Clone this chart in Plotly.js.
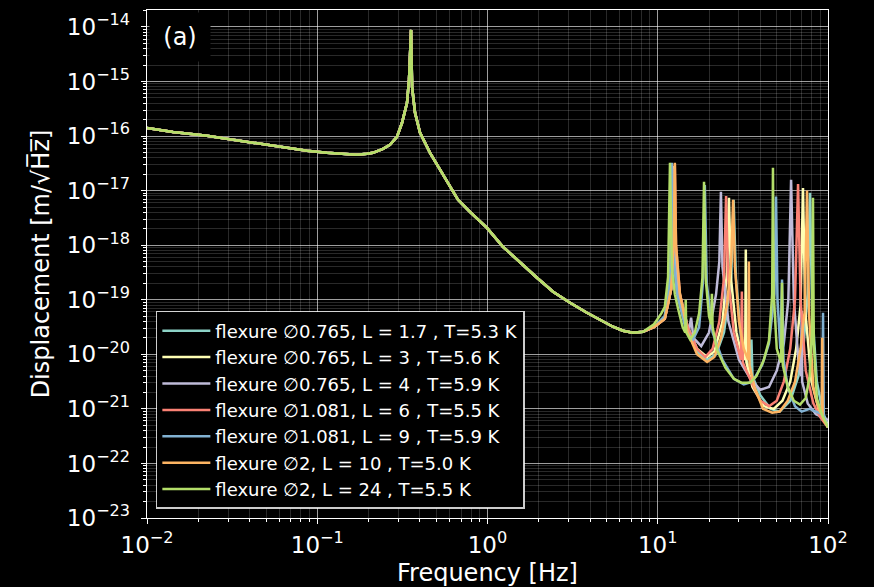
<!DOCTYPE html>
<html>
<head>
<meta charset="utf-8">
<script src="https://cdn.plot.ly/plotly-3.0.1.min.js"></script>
<style>
html,body{margin:0;padding:0;background:#000;}
#plot{width:874px;height:587px;}
</style>
</head>
<body>
<div id="plot"></div>
<script>
// Shared low-frequency part (all curves overlap below ~9 Hz)
const freqBase = [0.01, 0.01422, 0.02249, 0.03515, 0.05495, 0.0870, 0.1140, 0.1361, 0.1711, 0.1959, 0.2124, 0.2432, 0.2673, 0.2939, 0.3148, 0.3367, 0.3459, 0.3556, 0.3606, 0.3753, 0.4016, 0.4597, 0.5260, 0.6020, 0.6714, 0.7889, 0.9931, 1.2331, 1.552, 1.953, 2.427, 3.054, 3.839, 4.767, 5.455, 6.246, 7.155, 8.19];
const dispBase = [1.41e-16, 1.19e-16, 1.01e-16, 8.17e-17, 6.62e-17, 5.37e-17, 4.92e-17, 4.72e-17, 4.53e-17, 4.72e-17, 4.92e-17, 5.83e-17, 6.90e-17, 9.66e-17, 1.75e-16, 4.06e-16, 1.07e-15, 8.81e-15, 7.96e-16, 2.66e-16, 1.15e-16, 4.92e-17, 2.40e-17, 1.17e-17, 6.79e-18, 4.09e-18, 2.08e-18, 9.35e-19, 4.76e-19, 2.53e-19, 1.40e-19, 8.81e-20, 5.78e-20, 3.95e-20, 3.20e-20, 2.70e-20, 2.49e-20, 2.59e-20];

// High-frequency parts, one per flexure
const freqTeal = [9.5, 11.0, 11.7, 11.9, 12.1, 12.3, 13.0, 15.0, 17.0, 19.5, 22, 24.5, 27.0, 27.9, 28.8, 31, 35.0, 35.5, 36.0, 40, 46, 52, 60, 67, 72, 76, 78.4, 80.5, 86, 93, 100];
const dispTeal = [3.16e-20, 5.01e-20, 2.0e-19, 7.94e-19, 2.82e-17, 7.94e-19, 1.26e-19, 2.51e-20, 1.12e-20, 7.94e-21, 1.0e-20, 2.51e-20, 2.51e-19, 6.76e-18, 2.51e-19, 1.58e-20, 4.47e-21, 1.86e-20, 3.98e-21, 1.78e-21, 1.0e-21, 8.91e-22, 1.41e-21, 3.98e-21, 1.58e-20, 1.26e-19, 9.12e-18, 7.94e-20, 3.16e-21, 8.91e-22, 5.01e-22];

const freqYellow = [9.5, 11.0, 12.0, 12.2, 12.4, 12.6, 13.5, 15.0, 17.0, 19.5, 21.5, 24, 25.5, 26.2, 26.9, 29, 31, 32.6, 32.9, 33.2, 36, 42, 48, 54, 60, 65, 69, 71.3, 73.5, 80, 88, 100];
const dispYellow = [3.16e-20, 4.47e-20, 1.58e-19, 6.31e-19, 2.82e-17, 6.31e-19, 1.26e-19, 3.16e-20, 1.26e-20, 8.91e-21, 1.12e-20, 3.98e-20, 3.16e-19, 7.41e-18, 2.51e-19, 2.51e-20, 1.0e-20, 7.94e-21, 8.32e-19, 7.08e-21, 2.51e-21, 1.12e-21, 1.0e-21, 1.41e-21, 3.16e-21, 1.26e-20, 7.94e-20, 1.12e-17, 6.31e-20, 3.16e-21, 1.0e-21, 5.01e-22];

const freqLavender = [9.5, 11.0, 12.0, 12.2, 12.4, 12.6, 13.5, 15.2, 15.7, 16.2, 18.0, 20.0, 22.0, 23.0, 23.5, 24.0, 26, 30, 35, 40, 45, 50, 55, 58.5, 60.7, 63, 67, 69.5, 70.0, 70.5, 76, 85, 100];
const dispLavender = [3.16e-20, 4.47e-20, 1.58e-19, 6.31e-19, 2.51e-17, 6.31e-19, 1.12e-19, 2.51e-20, 4.68e-20, 2.0e-20, 1.41e-20, 2.51e-20, 1.26e-19, 5.01e-19, 9.55e-18, 3.98e-19, 3.98e-20, 7.94e-21, 3.55e-21, 2.24e-21, 2.51e-21, 5.01e-21, 1.58e-20, 1.0e-19, 1.58e-17, 1.0e-19, 7.94e-21, 3.98e-21, 6.31e-20, 3.16e-21, 1.26e-21, 7.94e-22, 6.31e-22];

const freqRed = [9.5, 11.0, 12.0, 12.4, 12.6, 12.8, 13.5, 15.0, 17.0, 19.0, 21.0, 23.0, 24.5, 25.2, 25.9, 28, 30.8, 31.2, 31.6, 36, 40, 45, 50, 55, 60, 64, 66.7, 69, 74, 82, 90, 100];
const dispRed = [3.16e-20, 4.47e-20, 1.58e-19, 1.0e-18, 3.02e-17, 1.0e-18, 1.26e-19, 3.16e-20, 1.26e-20, 8.91e-21, 1.26e-20, 3.98e-20, 2.51e-19, 7.94e-18, 2.51e-19, 2.51e-20, 7.94e-21, 1.41e-19, 7.08e-21, 2.82e-21, 1.41e-21, 1.12e-21, 1.41e-21, 3.16e-21, 1.26e-20, 1.0e-19, 1.32e-17, 1.0e-19, 5.01e-21, 1.26e-21, 7.08e-22, 4.57e-22];

const freqBlue = [9.5, 11.0, 11.7, 11.9, 12.1, 12.3, 13.0, 14.5, 16.0, 17.5, 18.4, 18.9, 19.4, 21, 24, 28, 32, 36, 41, 45, 48.5, 49.5, 50.5, 52.5, 53.7, 54.8, 58, 64, 70, 78, 86, 92.5, 93.5, 94.5, 100];
const dispBlue = [3.16e-20, 5.01e-20, 2.0e-19, 7.94e-19, 3.24e-17, 7.94e-19, 1.26e-19, 3.16e-20, 1.78e-20, 3.16e-20, 2.0e-19, 1.26e-17, 2.0e-19, 2.51e-20, 7.94e-21, 3.55e-21, 2.82e-21, 3.16e-21, 6.31e-21, 1.58e-20, 1.26e-19, 7.76e-18, 1.0e-19, 1.26e-20, 2.34e-19, 7.94e-21, 2.51e-21, 1.12e-21, 8.91e-22, 1.0e-21, 8.91e-22, 7.94e-22, 5.75e-20, 7.08e-22, 4.57e-22];

const freqOrange = [9.5, 11.0, 12.0, 12.4, 12.6, 12.8, 13.5, 15.0, 17.0, 19.5, 21.5, 23.5, 25.5, 27.0, 27.7, 28.4, 30.0, 32.0, 34.0, 34.3, 34.6, 37, 41.5, 47, 52, 58, 64, 69, 73, 75.3, 77.5, 82, 88, 92, 92.5, 93, 96, 100];
const dispOrange = [3.16e-20, 4.47e-20, 1.58e-19, 1.0e-18, 3.24e-17, 1.0e-18, 1.26e-19, 2.51e-20, 1.0e-20, 7.24e-21, 8.91e-21, 2.0e-20, 7.94e-20, 5.01e-19, 6.76e-18, 3.98e-19, 3.98e-20, 1.26e-20, 7.94e-21, 5.01e-19, 6.31e-21, 2.51e-21, 1.0e-21, 8.51e-22, 8.91e-22, 1.41e-21, 3.16e-21, 1.26e-20, 6.31e-20, 1.0e-17, 5.01e-20, 2.51e-21, 1.0e-21, 7.94e-22, 2.0e-20, 7.08e-22, 5.62e-22, 4.57e-22];

const freqGreen = [9.5, 10.5, 11.0, 11.5, 11.8, 12.1, 12.6, 13.2, 14.0, 14.5, 14.6, 14.7, 15.5, 16.5, 17.5, 18.3, 18.7, 19.1, 20.0, 20.6, 20.8, 21.0, 22.3, 25, 28, 31, 34.8, 38, 42, 45, 47.0, 47.5, 48.0, 50, 53.0, 53.7, 54.3, 58, 63, 68.5, 74, 78, 80.5, 81.6, 82.5, 86, 92, 100];
const dispGreen = [3.55e-20, 5.62e-20, 7.41e-20, 2.63e-19, 3.24e-17, 3.98e-19, 1.26e-19, 6.61e-20, 3.16e-20, 2.51e-20, 1.0e-19, 2.51e-20, 1.86e-20, 2.51e-20, 5.62e-20, 2.51e-19, 1.45e-17, 2.51e-19, 5.01e-20, 3.55e-20, 1.29e-19, 3.16e-20, 1.20e-20, 5.62e-21, 3.55e-21, 3.02e-21, 3.02e-21, 3.98e-21, 7.94e-21, 1.78e-20, 1.26e-19, 2.63e-17, 1.26e-19, 1.26e-20, 7.08e-21, 2.04e-19, 6.31e-21, 2.51e-21, 1.41e-21, 1.20e-21, 1.58e-21, 3.98e-21, 2.51e-20, 7.41e-18, 1.58e-20, 1.58e-21, 7.94e-22, 4.57e-22];

const seriesNames = [
  "flexure \u22050.765, L = 1.7 , T=5.3 K",
  "flexure \u22050.765, L = 3 , T=5.6 K",
  "flexure \u22050.765, L = 4 , T=5.9 K",
  "flexure \u22051.081, L = 6 , T=5.5 K",
  "flexure \u22051.081, L = 9 , T=5.9 K",
  "flexure \u22052, L = 10 , T=5.0 K",
  "flexure \u22052, L = 24 , T=5.5 K"
];
const seriesColors = ["#8dd3c7", "#feffb3", "#bfbbd9", "#fa8174", "#81b1d2", "#fdb462", "#b3de69"];
const tailsF = [freqTeal, freqYellow, freqLavender, freqRed, freqBlue, freqOrange, freqGreen];
const tailsV = [dispTeal, dispYellow, dispLavender, dispRed, dispBlue, dispOrange, dispGreen];

const xTickVals = [0.01, 0.1, 1, 10, 100];
const xTickText = ["10<sup>\u22122</sup>", "10<sup>\u22121</sup>", "10<sup>0</sup>", "10<sup>1</sup>", "10<sup>2</sup>"];
const yTickVals = [1e-23, 1e-22, 1e-21, 1e-20, 1e-19, 1e-18, 1e-17, 1e-16, 1e-15, 1e-14];
const yTickText = ["10<sup>\u221223</sup>", "10<sup>\u221222</sup>", "10<sup>\u221221</sup>", "10<sup>\u221220</sup>", "10<sup>\u221219</sup>", "10<sup>\u221218</sup>", "10<sup>\u221217</sup>", "10<sup>\u221216</sup>", "10<sup>\u221215</sup>", "10<sup>\u221214</sup>"];

const traces = seriesNames.map((name, i) => ({
  type: "scatter",
  mode: "lines",
  name: name,
  x: freqBase.concat(tailsF[i]),
  y: dispBase.concat(tailsV[i]),
  line: {color: seriesColors[i], width: 2.5}
}));

const FONT = "DejaVu Sans, sans-serif";
const axisCommon = {
  type: "log",
  showline: true,
  linecolor: "#ffffff",
  linewidth: 1.3,
  mirror: true,
  ticks: "outside",
  ticklen: 5,
  tickcolor: "#ffffff",
  tickwidth: 1,
  tickmode: "array",
  showgrid: true,
  gridcolor: "rgba(255,255,255,0.55)",
  gridwidth: 1,
  zeroline: false,
  tickfont: {family: FONT, size: 23, color: "#ffffff"},
  minor: {
    dtick: "D1",
    ticks: "outside",
    ticklen: 3,
    tickcolor: "#ffffff",
    showgrid: true,
    gridcolor: "rgba(255,255,255,0.2)",
    gridwidth: 0.8
  }
};

const layout = {
  width: 874,
  height: 587,
  paper_bgcolor: "#000000",
  plot_bgcolor: "#000000",
  margin: {l: 147, r: 46, t: 10, b: 69},
  showlegend: true,
  font: {family: FONT, color: "#ffffff"},
  xaxis: Object.assign({}, axisCommon, {
    range: [-2, 2],
    tickvals: xTickVals,
    ticktext: xTickText,
    ticklabelstandoff: 1,
    title: {text: "Frequency [Hz]", font: {family: FONT, size: 24, color: "#ffffff"}, standoff: 11}
  }),
  yaxis: Object.assign({}, axisCommon, {
    range: [-23, -13.69],
    tickvals: yTickVals,
    ticktext: yTickText,
    ticklabelstandoff: 6,
    title: {text: "Displacement [m/\u221AH\u0305z\u0305]", font: {family: FONT, size: 24, color: "#ffffff"}, standoff: 10}
  }),
  legend: {
    x: 0.013, y: 0.4075, xanchor: "left", yanchor: "top",
    bgcolor: "#000000",
    bordercolor: "rgba(255,255,255,0.8)",
    borderwidth: 1.5,
    font: {family: FONT, size: 18, color: "#ffffff"},
    tracegroupgap: 0,
    itemwidth: 48
  },
  annotations: [{
    xref: "paper", yref: "paper",
    x: 0.003, y: 0.997, xanchor: "left", yanchor: "top",
    text: "(a)",
    showarrow: false,
    font: {family: FONT, size: 24, color: "#ffffff"},
    bgcolor: "#000000",
    width: 58, height: 46,
    align: "center", valign: "middle"
  }]
};

Plotly.newPlot("plot", traces, layout, {displayModeBar: false, staticPlot: true});
</script>
</body>
</html>
